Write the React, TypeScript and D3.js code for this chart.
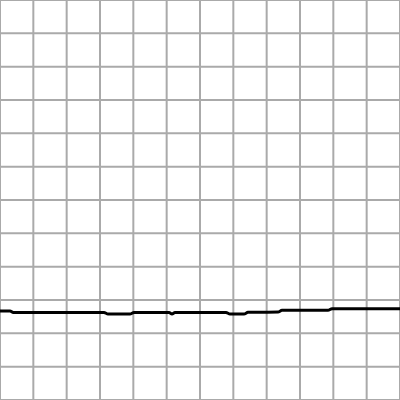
import React, { useEffect, useRef } from "react";
import * as d3 from "d3";

// x positions of the trace points (0..120)
const xValues = [0, 3, 4, 31.2, 32.4, 39, 40.2, 50.7, 51.6, 52.5, 67.8, 69, 73.2, 74.4, 83.4, 84.6, 98.4, 99.6, 120];
// trace level at each point
const yValues = [26.7, 26.7, 26.25, 26.25, 25.8, 25.8, 26.25, 26.25, 25.8, 26.25, 26.25, 25.8, 25.8, 26.3, 26.4, 26.9, 26.9, 27.4, 27.4];
// grid lines every 10 units
const gridTicks = [0, 10, 20, 30, 40, 50, 60, 70, 80, 90, 100, 110, 120];

export default function App() {
  const svgRef = useRef<SVGSVGElement>(null);

  useEffect(() => {
    const width = 400;
    const height = 400;

    const svg = d3.select(svgRef.current);
    svg.selectAll("*").remove();
    svg.attr("width", width).attr("height", height).attr("viewBox", [0, 0, width, height]);

    const x = d3.scaleLinear().domain([0, 120]).range([0, width]);
    const y = d3.scaleLinear().domain([0, 120]).range([height, 0]);

    svg.append("rect").attr("width", width).attr("height", height).attr("fill", "white");

    const grid = svg.append("g").attr("stroke", "#aaa").attr("stroke-width", 2);
    grid
      .selectAll("line.v")
      .data(gridTicks)
      .join("line")
      .attr("class", "v")
      .attr("x1", (d) => x(d))
      .attr("x2", (d) => x(d))
      .attr("y1", 0)
      .attr("y2", height);
    grid
      .selectAll("line.h")
      .data(gridTicks)
      .join("line")
      .attr("class", "h")
      .attr("y1", (d) => y(d))
      .attr("y2", (d) => y(d))
      .attr("x1", 0)
      .attr("x2", width);

    const data = xValues.map((v, i) => [v, yValues[i]] as [number, number]);
    const line = d3
      .line<[number, number]>()
      .x((d) => x(d[0]))
      .y((d) => y(d[1]))
      .curve(d3.curveMonotoneX);

    svg
      .append("path")
      .datum(data)
      .attr("fill", "none")
      .attr("stroke", "black")
      .attr("stroke-width", 3)
      .attr("d", line);
  }, []);

  return <svg ref={svgRef} style={{ position: "fixed", left: 0, top: 0, display: "block" }}></svg>;
}
